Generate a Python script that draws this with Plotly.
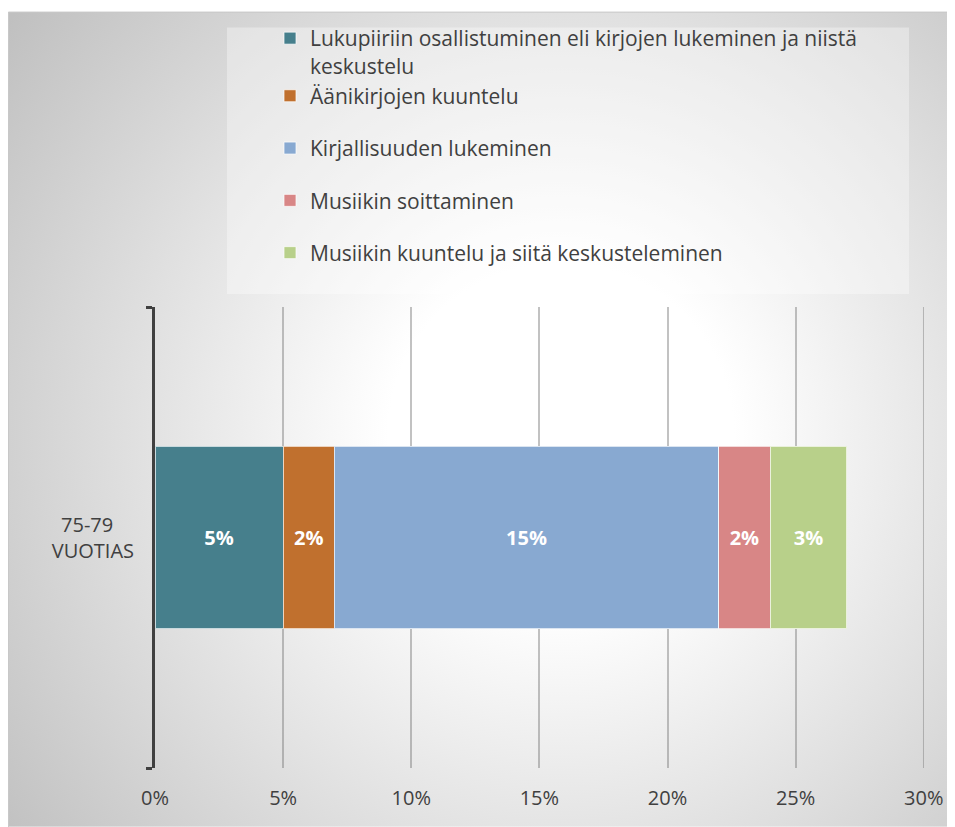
import base64
import plotly.graph_objects as go

categories = ["75-79\u00a0\u00a0\u00a0\u00a0<br>VUOTIAS"]
series_names = [
    "Lukupiiriin osallistuminen eli kirjojen lukeminen ja niistä<br>keskustelu",
    "Äänikirjojen kuuntelu",
    "Kirjallisuuden lukeminen",
    "Musiikin soittaminen",
    "Musiikin kuuntelu ja siitä keskusteleminen",
]
series_values = [0.05, 0.02, 0.15, 0.02, 0.03]
series_labels = ["5%", "2%", "15%", "2%", "3%"]
colors = ["#467F8C", "#C0702E", "#88A9D1", "#D88686", "#B8D08A"]
groups = ["g1", "g1", "g3", "g4", "g5"]
x_tickvals = [0, 0.05, 0.10, 0.15, 0.20, 0.25, 0.30]
x_ticktext = ["0%", "5%", "10%", "15%", "20%", "25%", "30%"]

# page is offset by the default 8px body margin
OFF = 8
PAGE_W, PAGE_H = 955, 827
W, H = PAGE_W - OFF, PAGE_H - OFF
# plot area in page coordinates
PX0, PX1, PY0, PY1 = 155, 924, 306, 768
ML, MR, MT, MB = PX0 - OFF, PAGE_W - PX1, PY0 - OFF, PAGE_H - PY1
PW = PX1 - PX0
PH = PY1 - PY0


def px_x(px):
    return (px - PX0) / PW


def px_y(py):
    return (PY1 - py) / PH


FONT = "Open Sans, Noto Sans, sans-serif"
TXT = "#404040"
GRID = "rgba(120,120,120,0.45)"

svg = f'''<svg xmlns="http://www.w3.org/2000/svg" width="{PAGE_W}" height="{PAGE_H}" viewBox="0 0 {PAGE_W} {PAGE_H}">
<defs><radialGradient id="g" gradientUnits="userSpaceOnUse" cx="560" cy="430" r="700">
<stop offset="0" stop-color="#ffffff"/><stop offset="0.25" stop-color="#ffffff"/>
<stop offset="1" stop-color="#c0c0c0"/></radialGradient></defs>
<rect x="0" y="0" width="{PAGE_W}" height="{PAGE_H}" fill="url(#g)"/></svg>'''
src = "data:image/svg+xml;base64," + base64.b64encode(svg.encode()).decode()

fig = go.Figure()
for name, val, lab, col, grp in zip(series_names, series_values, series_labels, colors, groups):
    fig.add_trace(go.Bar(
        y=categories, x=[val], name=name, orientation="h",
        marker=dict(color=col, line=dict(color="rgba(255,255,255,0.7)", width=1)),
        text=[lab], textposition="inside", insidetextanchor="middle",
        textfont=dict(color="white", size=20, family=FONT, weight="bold"),
        constraintext="none", textangle=0, hoverinfo="skip",
        legendgroup=grp,
    ))

fig.update_layout(
    width=W, height=H,
    margin=dict(l=ML, r=MR, t=MT, b=MB, pad=0),
    barmode="stack", bargap=0.604,
    paper_bgcolor="white", plot_bgcolor="rgba(0,0,0,0)",
    font=dict(family=FONT, color=TXT, size=20),
    showlegend=True,
    legend=dict(
        x=px_x(270), xanchor="left", y=px_y(18), yanchor="top",
        bgcolor="rgba(0,0,0,0)", font=dict(size=21, color=TXT, family=FONT),
        traceorder="grouped", tracegroupgap=22, valign="top",
    ),
    xaxis=dict(
        range=[0, 0.3001], tickvals=x_tickvals, ticktext=x_ticktext,
        showgrid=True, gridcolor=GRID, gridwidth=1.5,
        zeroline=False, showline=False, ticks="",
        tickfont=dict(size=20, color=TXT), ticklabelstandoff=16,
    ),
    yaxis=dict(
        showline=True, linecolor="#404040", linewidth=3,
        ticks="outside", tickson="boundaries", ticklen=6, tickwidth=3, tickcolor="#404040",
        showgrid=False, zeroline=False,
        tickfont=dict(size=20, color=TXT), ticklabelstandoff=14,
    ),
    images=[dict(
        source=src, xref="paper", yref="paper",
        x=px_x(8), y=px_y(10), sizex=(951 - 8) / PW, sizey=(PAGE_H - 10) / PH,
        xanchor="left", yanchor="top", sizing="stretch", layer="below",
    )],
    shapes=[
        dict(type="rect", xref="paper", yref="paper", layer="below",
             x0=px_x(227), x1=px_x(909), y0=px_y(293), y1=px_y(26),
             fillcolor="rgba(255,255,255,0.35)", line=dict(width=0)),
        dict(type="rect", xref="paper", yref="paper", layer="below",
             x0=px_x(8.5), x1=px_x(951), y0=px_y(PAGE_H + 2), y1=px_y(10.5),
             fillcolor="rgba(0,0,0,0)", line=dict(color="#c8c8c8", width=1)),
        # gridline at the last tick (plotly skips gridlines on the range edge)
        dict(type="line", xref="x", yref="paper", layer="below",
             x0=x_tickvals[-1], x1=x_tickvals[-1], y0=0, y1=1,
             line=dict(color=GRID, width=1.5)),
    ],
)

fig.write_html("out.html")
